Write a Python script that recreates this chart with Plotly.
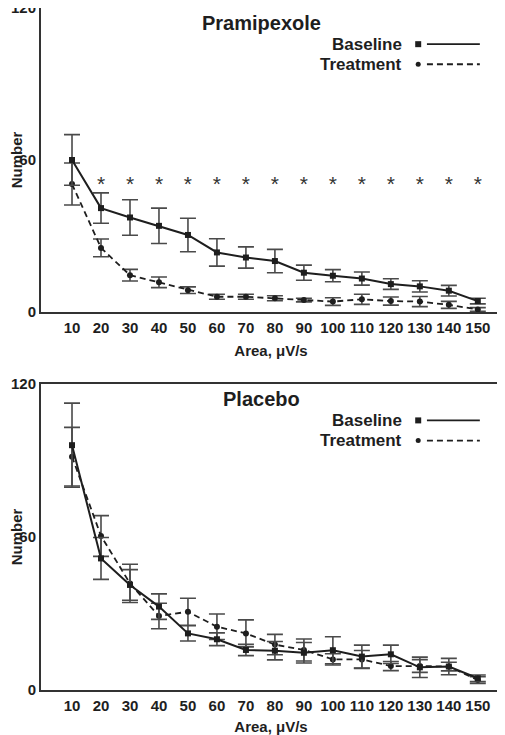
import plotly.graph_objects as go
from plotly.subplots import make_subplots

# ---------------- data ----------------
area = [10, 20, 30, 40, 50, 60, 70, 80, 90, 100, 110, 120, 130, 140, 150]
tick_labels = [str(a) for a in area]

# Pramipexole
pram_base = [60, 41, 37.3, 34, 30.4, 23.5, 21.5, 20.1, 15.5, 14.3, 13.2, 11, 10.1, 8.4, 4.3]
pram_base_err = [10, 6, 7, 7, 6.6, 5.4, 4.2, 4.6, 3, 2.4, 2.6, 2.1, 2.2, 2.1, 1.1]
pram_treat = [50.5, 25.3, 14.5, 11.7, 8.6, 6.0, 6.0, 5.4, 4.7, 4.1, 5.0, 4.3, 4.1, 2.8, 1.0]
pram_treat_err = [8.3, 3.5, 2.3, 2.1, 1.3, 1.0, 1.0, 1.0, 0.7, 1.5, 2.0, 1.6, 2.0, 1.4, 0.7]
sig_area = [20, 30, 40, 50, 60, 70, 80, 90, 100, 110, 120, 130, 140, 150]
sig_level = [50] * len(sig_area)

# Placebo
plac_base = [96, 51.6, 41.2, 32.7, 22.2, 19.9, 15.7, 15.4, 14.6, 15.6, 13.1, 14.0, 8.9, 9.2, 4.6]
plac_base_err = [16.5, 8.2, 6, 5, 3, 2.5, 2.2, 3.6, 4, 5.3, 4.5, 3.6, 4, 3.2, 1.3]
plac_treat = [91.5, 60.4, 41.8, 29.0, 30.7, 24.8, 22.2, 17.8, 15.7, 12.0, 12.0, 9.4, 9.4, 9.2, 3.9]
plac_treat_err = [11.5, 8, 7.5, 5, 5.3, 5, 5.3, 4, 4.3, 2.2, 3.5, 1.8, 2.5, 1.7, 1.3]

panel_titles = ["Pramipexole", "Placebo"]
series_names = ["Baseline", "Treatment"]

# ---------------- style ----------------
FONT = "Liberation Sans"
INK = "#1e1e1e"
ERR = "#4a4a4a"

fig = make_subplots(rows=2, cols=1, vertical_spacing=0.104)
fig.update_layout(
    yaxis=dict(domain=[0.5543, 1.0]),
    yaxis2=dict(domain=[0.0, 0.4487]),
)

panels = [
    (pram_base, pram_base_err, pram_treat, pram_treat_err),
    (plac_base, plac_base_err, plac_treat, plac_treat_err),
]

for i, (b, be, t, te) in enumerate(panels, start=1):
    fig.add_trace(go.Scatter(
        x=area, y=t, mode="lines+markers", name=series_names[1],
        line=dict(color=INK, width=1.8, dash="6px,4px"),
        marker=dict(symbol="circle", size=6, color=INK),
        error_y=dict(type="data", array=te, color=ERR, thickness=1.6, width=8),
        showlegend=False), row=i, col=1)
    fig.add_trace(go.Scatter(
        x=area, y=b, mode="lines+markers", name=series_names[0],
        line=dict(color=INK, width=2),
        marker=dict(symbol="square", size=6, color=INK),
        error_y=dict(type="data", array=be, color=ERR, thickness=1.6, width=8),
        showlegend=False), row=i, col=1)

# significance stars (top panel)
fig.add_trace(go.Scatter(
    x=sig_area, y=sig_level, mode="text", text=["*"] * len(sig_area),
    textfont=dict(family=FONT, size=21, color="#333"),
    textposition="middle center", showlegend=False, hoverinfo="skip"),
    row=1, col=1)

axis_common = dict(
    showline=True, mirror=True, linecolor="#333", linewidth=2,
    showgrid=False, zeroline=False, ticks="", automargin=False,
    ticklabeloverflow="allow",
)
for i in (1, 2):
    fig.update_xaxes(
        range=[-0.7, 158], tickvals=area, ticktext=tick_labels,
        tickfont=dict(family=FONT, size=15, color=INK, weight="bold"),
        ticklabelstandoff=1,
        title=dict(text="Area, μV/s", standoff=11,
                   font=dict(family=FONT, size=15, color=INK, weight="bold")),
        row=i, col=1, **axis_common)
    fig.update_yaxes(
        range=[0, 120], tickvals=[0, 60, 120], ticktext=["0", "60", "120"],
        tickfont=dict(family=FONT, size=15, color=INK, weight="bold"),
        ticklabelstandoff=0,
        title=dict(text="Number", standoff=13,
                   font=dict(family=FONT, size=15, color=INK, weight="bold")),
        row=i, col=1, **axis_common)

# panel titles and custom legends (text left of symbol)
annotations = []
shapes = []
for i, title in enumerate(panel_titles, start=1):
    xd = "x domain" if i == 1 else "x2 domain"
    yd = "y domain" if i == 1 else "y2 domain"
    annotations.append(dict(
        text=f"<b>{title}</b>", xref=xd, yref=yd, x=0.48, y=0.952,
        showarrow=False, font=dict(family=FONT, size=20, color=INK),
        xanchor="center", yanchor="middle"))
    for j, (name, ly) in enumerate(zip(series_names, [0.881, 0.815])):
        annotations.append(dict(
            text=f"<b>{name}</b>", xref=xd, yref=yd, x=0.789, y=ly,
            showarrow=False, font=dict(family=FONT, size=17, color=INK),
            xanchor="right", yanchor="middle"))
        shapes.append(dict(
            type="rect" if j == 0 else "circle",
            xref=xd, yref=yd, xsizemode="pixel", ysizemode="pixel",
            xanchor=0.82, yanchor=ly,
            x0=-3 if j == 0 else -2.5, x1=3 if j == 0 else 2.5,
            y0=-3 if j == 0 else -2.5, y1=3 if j == 0 else 2.5,
            fillcolor=INK, line=dict(width=0)))
        shapes.append(dict(
            type="line", xref=xd, yref=yd, x0=0.839, x1=0.954, y0=ly, y1=ly,
            line=dict(color=INK, width=1.8, dash="solid" if j == 0 else "6px,4px")))

# the page body adds an 8px offset; size the figure to fit the window
fig.update_layout(
    annotations=annotations, shapes=shapes,
    width=497, height=727,
    margin=dict(l=33, r=4, t=0, b=45),
    plot_bgcolor="white", paper_bgcolor="white",
    font=dict(family=FONT, color=INK),
)

fig.write_html("out.html")
